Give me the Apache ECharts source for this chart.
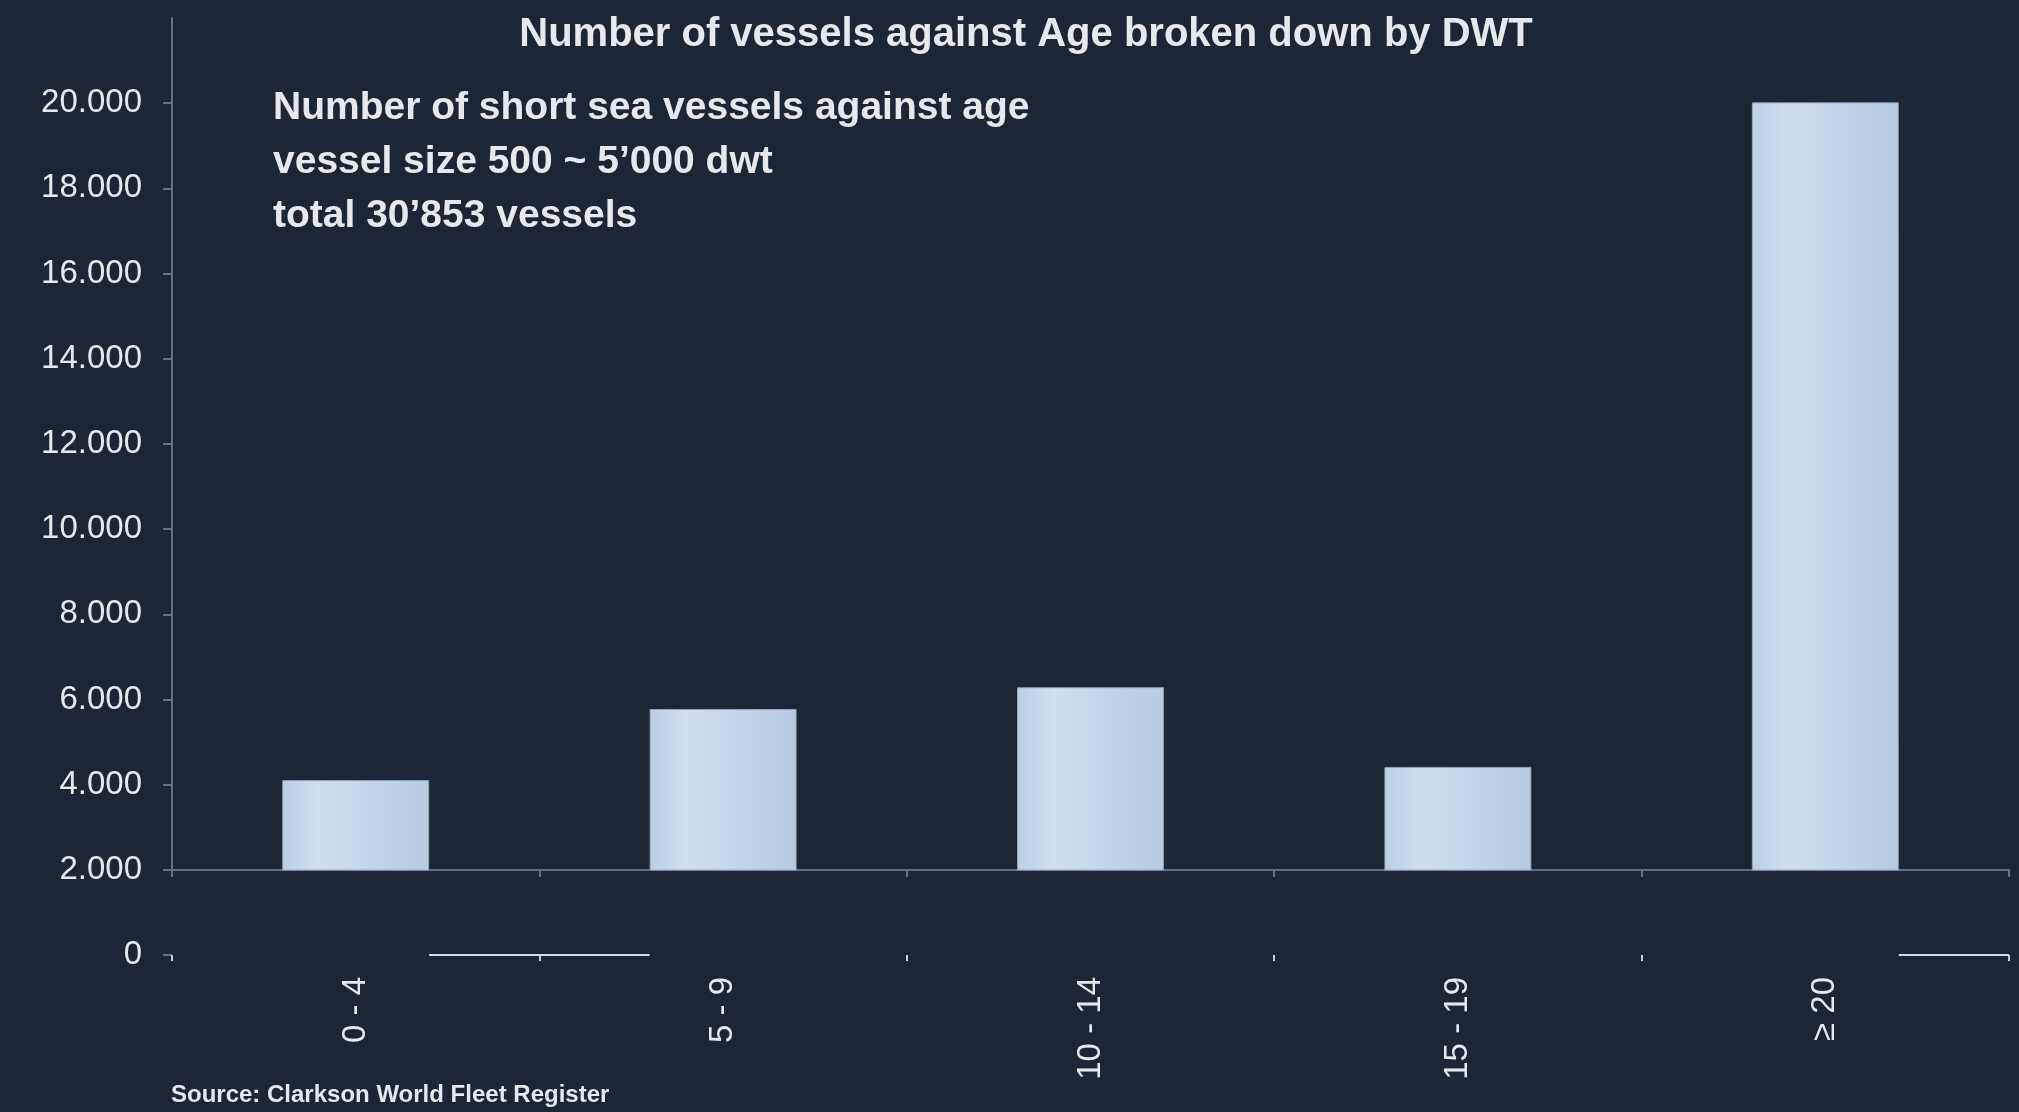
<!DOCTYPE html>
<html>
<head>
<meta charset="utf-8">
<title>Number of vessels against Age broken down by DWT</title>
<script src="https://cdn.jsdelivr.net/npm/echarts@6/dist/echarts.min.js"></script>
<style>
  html, body { margin: 0; padding: 0; background: #1c2634; }
  #chart { width: 2019px; height: 1112px; }
</style>
</head>
<body>
<div id="chart"></div>
<script>
// age groups (years) and number of vessels
var ageGroups = ['0 - 4', '5 - 9', '10 - 14', '15 - 19', '\u2265 20'];
var vesselCounts = [4110, 5780, 6290, 4420, 20020];
var upperTicks = [2000, 4000, 6000, 8000, 10000, 12000, 14000, 16000, 18000, 20000];
var lowerTicks = [0];
// stray white segments on the zero line (in category units)
var zeroLineGaps = [[0.7, 1.3], [4.7, 5]];

var chartTitle = 'Number of vessels against Age broken down by DWT';
var noteLines = [
    'Number of short sea vessels against age',
    'vessel size 500 ~ 5\u2019000 dwt',
    'total 30\u2019853 vessels'
];
var sourceText = 'Source: Clarkson World Fleet Register';

function fmt(v) {		// 20000 -> 20.000
    if (v < 1000) return String(v);
    var r = String(v % 1000);
    while (r.length < 3) r = '0' + r;
    return Math.floor(v / 1000) + '.' + r;
}

var axisColor = '#66707d';
var textColor = '#e6e8eb';
var font = 'Liberation Sans';

var zeroLineData = [];
for (var i = 0; i < zeroLineGaps.length; i++) {
    zeroLineData.push([zeroLineGaps[i][0], 0], [zeroLineGaps[i][1], 0], null);
}
zeroLineData.pop();

var myChart = echarts.init(document.getElementById('chart'));
var option = {
    backgroundColor: '#1c2634',
    animation: false,
    textStyle: { fontFamily: font },
    title: [
        {
            text: chartTitle,
            left: 1026,
            textAlign: 'center',
            top: 15,
            padding: 0,
            textStyle: { color: textColor, fontSize: 40, fontWeight: 'bold', fontFamily: font }
        },
        {
            text: noteLines.join('\n'),
            left: 273,
            top: 81,
            padding: 0,
            textStyle: { color: textColor, fontSize: 39, fontWeight: 'bold', lineHeight: 54, fontFamily: font }
        },
        {
            text: sourceText,
            left: 171,
            top: 1083,
            padding: 0,
            textStyle: { color: textColor, fontSize: 24, fontWeight: 'bold', fontFamily: font }
        }
    ],
    grid: [
        { left: 172, right: 10, top: 18, height: 852 },
        { left: 172, right: 10, top: 870, height: 85 }
    ],
    xAxis: [
        {
            type: 'category',
            gridIndex: 0,
            data: ageGroups,
            axisLine: { lineStyle: { color: axisColor, width: 2 } },
            axisTick: { show: true, length: 7, lineStyle: { color: axisColor, width: 2 } },
            axisLabel: { show: false },
            splitLine: { show: false }
        },
        {
            type: 'category',
            gridIndex: 1,
            data: ageGroups,
            axisLine: { show: false },
            axisTick: { show: true, length: 6, lineStyle: { color: '#c9ced5', width: 2 } },
            axisLabel: {
                show: true,
                rotate: 90,
                margin: 22,
                color: textColor,
                fontSize: 33,
                fontFamily: font
            },
            splitLine: { show: false }
        },
        {
            type: 'value',
            gridIndex: 1,
            min: 0,
            max: 5,
            show: false
        }
    ],
    yAxis: [
        {
            type: 'value',
            gridIndex: 0,
            min: 2000,
            max: 22000,
            interval: 2000,
            axisLine: { show: true, lineStyle: { color: axisColor, width: 2 } },
            axisTick: { show: true, length: 9, customValues: upperTicks, lineStyle: { color: axisColor, width: 2 } },
            axisLabel: {
                customValues: upperTicks,
                formatter: fmt,
                margin: 30,
                color: textColor,
                fontSize: 33,
                fontFamily: font
            },
            splitLine: { show: false }
        },
        {
            type: 'value',
            gridIndex: 1,
            min: 0,
            max: 2000,
            interval: 2000,
            axisLine: { show: false },
            axisTick: { show: true, length: 9, customValues: lowerTicks, lineStyle: { color: axisColor, width: 2 } },
            axisLabel: {
                customValues: lowerTicks,
                formatter: fmt,
                margin: 30,
                color: textColor,
                fontSize: 33,
                fontFamily: font
            },
            splitLine: { show: false }
        }
    ],
    series: [
        {
            name: 'Vessels',
            type: 'bar',
            xAxisIndex: 0,
            yAxisIndex: 0,
            barWidth: '40%',
            data: vesselCounts,
            itemStyle: {
                borderColor: 'rgba(150,165,185,0.9)',
                borderWidth: 1,
                color: new echarts.graphic.LinearGradient(0, 0, 1, 0, [
                    { offset: 0, color: '#bccde5' },
                    { offset: 0.25, color: '#d1deed' },
                    { offset: 0.6, color: '#c4d4e8' },
                    { offset: 1, color: '#b7cae4' }
                ])
            }
        },
        {
            type: 'line',
            xAxisIndex: 2,
            yAxisIndex: 1,
            data: zeroLineData,
            symbol: 'none',
            connectNulls: false,
            lineStyle: { color: '#d6dbe1', width: 2 },
            silent: true
        }
    ]
};
myChart.setOption(option);
</script>
</body>
</html>
